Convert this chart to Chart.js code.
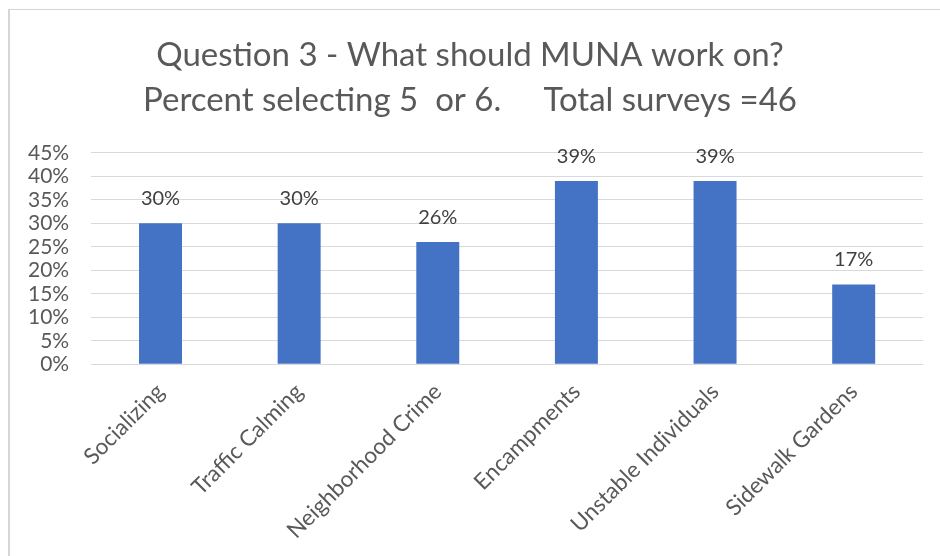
<!DOCTYPE html>
<html>
<head>
<meta charset="utf-8">
<script src="https://cdn.jsdelivr.net/npm/chart.js@4"></script>
<style>
  html, body { margin: 0; padding: 0; background: #fff; }
  #wrap { position: relative; width: 940px; height: 556px; overflow: hidden; }
  #frame {
    position: absolute; left: 8px; top: 9px; right: 0; bottom: 0;
    border-left: 2px solid #d6d6d6; border-top: 1px solid #d6d6d6;
    pointer-events: none;
  }
  #chart { position: absolute; left: 0; top: 0; }
</style>
</head>
<body>
<div id="wrap">
  <canvas id="chart" width="940" height="556"></canvas>
  <div id="frame"></div>
</div>
<script>
  const categories = ['Socializing', 'Traffic Calming', 'Neighborhood Crime', 'Encampments', 'Unstable Individuals', 'Sidewalk Gardens'];
  const percentSelecting = [30, 30, 26, 39, 39, 17];
  const titleLines = ['Question 3 - What should MUNA work on?', 'Percent selecting 5  or 6.     Total surveys =46'];
  const yMin = 0;
  const yMax = 45;
  const yStep = 5;

  const FONT = 'Lato, "Open Sans", sans-serif';
  const TEXT = '#595959';

  // value labels above each bar
  const barLabels = {
    id: 'barLabels',
    afterDatasetsDraw(chart) {
      const { ctx } = chart;
      const meta = chart.getDatasetMeta(0);
      ctx.save();
      ctx.font = `20px ${FONT}`;
      ctx.fillStyle = '#404040';
      ctx.textAlign = 'center';
      ctx.textBaseline = 'alphabetic';
      meta.data.forEach((bar, idx) => {
        ctx.fillText(`${percentSelecting[idx]}%`, bar.x, bar.y - 18);
      });
      ctx.restore();
    },
  };

  new Chart(document.getElementById('chart'), {
    type: 'bar',
    data: {
      labels: categories,
      datasets: [{
        data: percentSelecting,
        backgroundColor: '#4472C4',
        barPercentage: 0.31,
        categoryPercentage: 1,
      }],
    },
    options: {
      responsive: false,
      animation: false,
      layout: { padding: { left: 17, right: 17, top: 0, bottom: 6 } },
      plugins: {
        legend: { display: false },
        tooltip: { enabled: false },
        title: {
          display: true,
          text: titleLines,
          color: TEXT,
          font: { family: FONT, size: 33, weight: 'normal', lineHeight: 1.36 },
          padding: { top: 33, bottom: 30 },
        },
      },
      scales: {
        x: {
          grid: { display: false },
          border: { display: false },
          ticks: {
            color: TEXT,
            font: { family: FONT, size: 22.5 },
            minRotation: 45,
            maxRotation: 45,
            autoSkip: false,
            padding: 6,
          },
        },
        y: {
          min: yMin,
          max: yMax,
          border: { display: false },
          grid: { color: '#d9d9d9', lineWidth: 1, drawTicks: false },
          afterFit: (scale) => { scale.width -= 11; },
          ticks: {
            stepSize: yStep,
            autoSkip: false,
            color: TEXT,
            font: { family: FONT, size: 21 },
            padding: 22,
            callback: (v) => `${v}%`,
          },
        },
      },
    },
    plugins: [barLabels],
  });
</script>
</body>
</html>
